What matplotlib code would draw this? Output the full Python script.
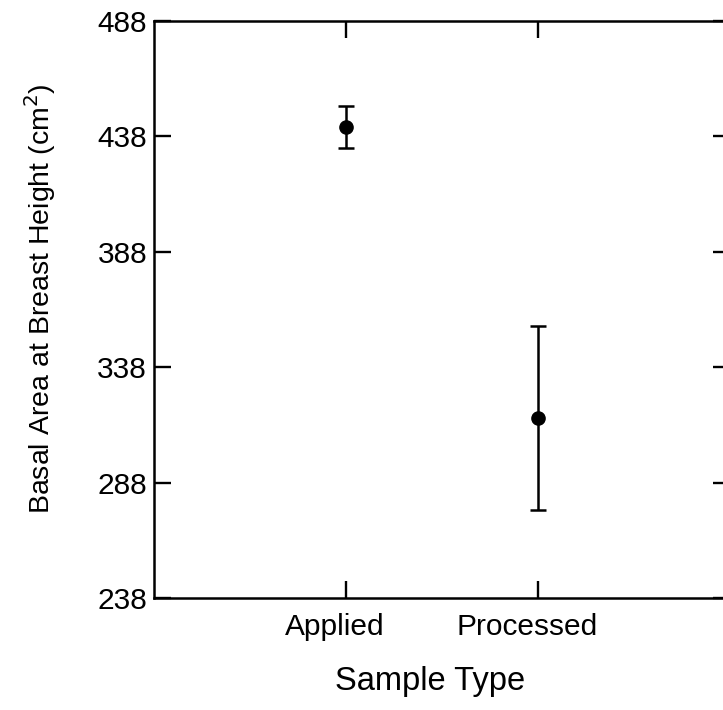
import matplotlib
matplotlib.use("Agg")
import matplotlib.pyplot as plt
from matplotlib.transforms import ScaledTranslation

categories = ["Applied", "Processed"]
means = [442, 316]
errors = [9, 40]
yticks = [238, 288, 338, 388, 438, 488]

plt.rcParams['font.family'] = ['Liberation Sans', 'DejaVu Sans']

fig = plt.figure(figsize=(7.23, 7.10), dpi=100)
W, H = 723, 710
left, right, top, bottom = 154, 730, 21, 598
ax = fig.add_axes([left / W, 1 - bottom / H, (right - left) / W, (bottom - top) / H])

x = [1, 2]
ax.errorbar(x, means, yerr=errors, fmt='o', color='black', markersize=9.5,
            capsize=6, elinewidth=1.8, capthick=1.8)

ax.set_xlim(0, 3)
ax.set_ylim(238, 488)
ax.set_xticks(x)
ax.set_xticklabels(categories)
ax.set_yticks(yticks)
ax.set_yticklabels([str(v) for v in yticks])

ax.tick_params(axis='both', which='both', direction='in', length=12.5, width=1.7,
               labelsize=21.5, top=True, right=True, pad=5)
ax.tick_params(axis='x', pad=11)
for s in ax.spines.values():
    s.set_linewidth(1.8)

shift = ScaledTranslation(-11 / 100, 0, fig.dpi_scale_trans)
for lbl in ax.get_xticklabels():
    lbl.set_transform(lbl.get_transform() + shift)

ax.set_xlabel("Sample Type", fontsize=23.5)
ax.xaxis.set_label_coords(0.479, -0.118)
ax.set_ylabel("Basal Area at Breast Height (cm$^2$)", fontsize=20.5)
ax.yaxis.set_label_coords(-0.167, 0.518)

fig.savefig("out.png", dpi=100)
